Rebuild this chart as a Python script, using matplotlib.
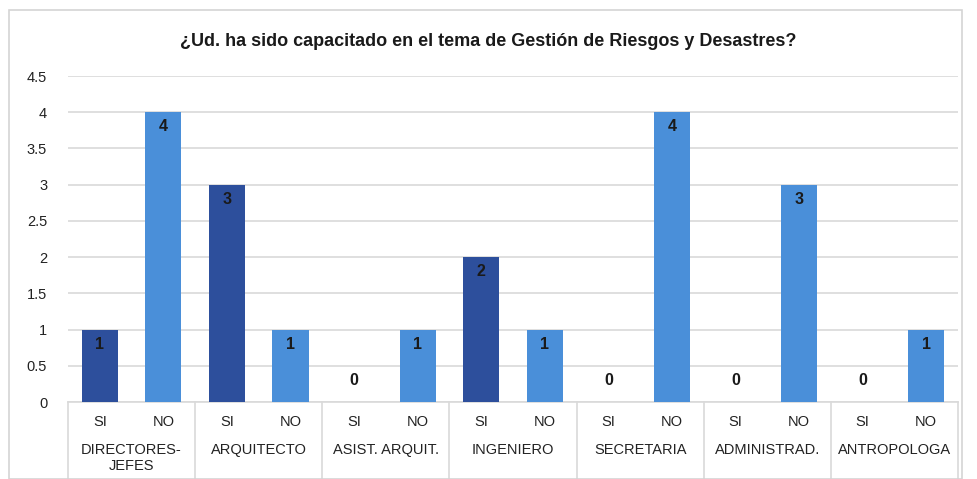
import matplotlib
matplotlib.use("Agg")
import matplotlib.pyplot as plt
from matplotlib.patches import Rectangle

plt.rcParams['font.family'] = ['Liberation Sans', 'DejaVu Sans']

groups = ['DIRECTORES-\nJEFES', 'ARQUITECTO', 'ASIST. ARQUIT.', 'INGENIERO',
          'SECRETARIA', 'ADMINISTRAD.', 'ANTROPOLOGA']
answers = ['SI', 'NO']
si_vals = [1, 3, 0, 2, 0, 0, 0]
no_vals = [4, 1, 1, 1, 4, 3, 1]
yticks = [0, 0.5, 1, 1.5, 2, 2.5, 3, 3.5, 4, 4.5]

c_si = '#2d4f9c'
c_no = '#4a8fd9'

fig = plt.figure(figsize=(9.77, 4.79), dpi=100)
fig.patches.append(Rectangle((9/977, 0), 953/977, 469/479, transform=fig.transFigure,
                             fill=False, edgecolor='#d4d4d4', lw=1.2))
ax = fig.add_axes([68/977, 77/479, 890/977, 326/479])

xs, vals, cols, labs = [], [], [], []
for i in range(len(groups)):
    for j, v in enumerate([si_vals[i], no_vals[i]]):
        xs.append(2*i + j)
        vals.append(v)
        cols.append(c_si if j == 0 else c_no)
        labs.append(answers[j])

ax.bar(xs, vals, width=0.57, color=cols, zorder=3)
for x, v in zip(xs, vals):
    y = v - 0.2 if v > 0 else 0.3
    ax.text(x, y, str(v), ha='center', va='center', fontsize=11.5,
            fontweight='bold', color='#1a1a1a', zorder=4)

ax.set_xlim(-0.5, 13.5)
ax.set_ylim(0, 4.5)
ax.set_yticks(yticks)
ax.set_yticklabels(['0', '0.5', '1', '1.5', '2', '2.5', '3', '3.5', '4', '4.5'])
ax.grid(axis='y', color='#d9d9d9', lw=1.2, zorder=0)
ax.set_xticks(xs)
ax.set_xticklabels(labs)
ax.tick_params(axis='both', length=0, labelsize=10.5, colors='#222222')
ax.tick_params(axis='x', pad=9)
ax.tick_params(axis='y', pad=15)
for s in ['top', 'right', 'left']:
    ax.spines[s].set_visible(False)
ax.spines['bottom'].set_color('#d9d9d9')
ax.spines['bottom'].set_linewidth(1.2)

trans = ax.get_xaxis_transform()
for k in range(len(groups) + 1):
    ax.plot([2*k - 0.5, 2*k - 0.5], [0, -0.24], transform=trans, color='#d9d9d9',
            lw=1.2, clip_on=False)
for i, g in enumerate(groups):
    ax.text(2*i + 0.5, -0.125, g, transform=trans, ha='center', va='top',
            fontsize=10.5, color='#222222', linespacing=1.25)

fig.text(0.5, 1 - 42/479, '¿Ud. ha sido capacitado en el tema de Gestión de Riesgos y Desastres?',
         ha='center', va='center', fontsize=13, fontweight='bold', color='#1a1a1a')

fig.savefig('out.png', dpi=100)
